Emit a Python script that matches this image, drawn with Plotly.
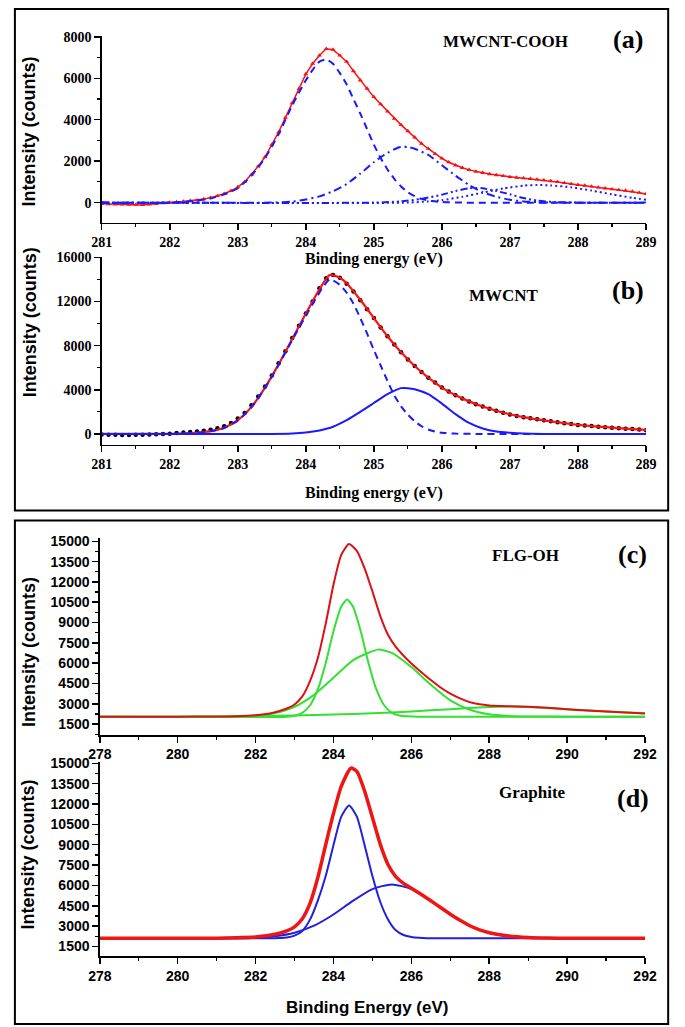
import numpy as np
import plotly.graph_objects as go

W, H = 685, 1027

# ---------------- panel (a) MWCNT-COOH ----------------
a_energy = np.round(np.linspace(281, 289, 81), 2)
a_counts = [-60, -70, -80, -90, -100, -100, -110, -80, -60, -30,
            0, 30, 60, 90, 120, 170, 240, 320, 430, 570,
            750, 1000, 1350, 1750, 2200, 2800, 3400, 4100, 4800, 5500,
            6200, 6700, 7100, 7420, 7380, 7100, 6800, 6350, 5900, 5500,
            5100, 4750, 4400, 4050, 3750, 3450, 3150, 2850, 2600, 2350,
            2130, 1950, 1800, 1680, 1580, 1500, 1440, 1380, 1330, 1290,
            1240, 1210, 1180, 1150, 1120, 1080, 1040, 1000, 950, 900,
            860, 820, 780, 730, 690, 650, 610, 580, 540, 480,
            420]
a_p1_x = [281, 282, 282.2, 282.4, 282.6, 282.8, 283.0, 283.2, 283.4, 283.6, 283.8, 284.0,
          284.1, 284.2, 284.3, 284.4, 284.5, 284.6, 284.7, 284.8, 284.9, 285.0, 285.1,
          285.2, 285.3, 285.4, 285.5, 285.6, 285.7, 285.8, 286.0, 286.3, 289]
a_p1_y = [0, 0, 30, 100, 200, 400, 700, 1300, 2150, 3300, 4700, 5900,
          6400, 6800, 6900, 6700, 6250, 5700, 5000, 4300, 3550, 2800, 2150,
          1600, 1150, 780, 500, 310, 180, 100, 30, 0, 0]
a_p2_x = [281, 283.5, 283.8, 284.0, 284.2, 284.4, 284.6, 284.8, 285.0, 285.2, 285.4, 285.5,
          285.6, 285.8, 286.0, 286.2, 286.4, 286.6, 286.8, 287.0, 287.2, 287.5, 289]
a_p2_y = [0, 0, 50, 150, 300, 550, 900, 1400, 1950, 2400, 2700, 2680,
          2600, 2300, 1800, 1300, 850, 500, 280, 140, 60, 10, 0]
a_p3_x = [281, 285.0, 285.4, 285.7, 286.0, 286.2, 286.4, 286.5, 286.6, 286.8, 287.0,
          287.2, 287.4, 287.7, 288.0, 289]
a_p3_y = [0, 0, 60, 180, 380, 560, 690, 710, 690, 560, 400,
          220, 100, 20, 0, 0]
a_p4_x = [281, 285.5, 285.8, 286.0, 286.3, 286.6, 286.9, 287.2, 287.4, 287.6, 287.9,
          288.2, 288.5, 288.8, 289.0]
a_p4_y = [0, 0, 60, 120, 280, 480, 680, 820, 850, 830, 740,
          580, 400, 230, 140]

# ---------------- panel (b) MWCNT ----------------
b_energy = np.round(np.linspace(281, 289, 81), 2)
b_counts = [-60, -70, -80, -90, -90, -80, -70, -50, -30, -10,
            20, 80, 130, 180, 230, 290, 380, 520, 700, 1000,
            1400, 1900, 2600, 3400, 4300, 5300, 6400, 7500, 8700, 9800,
            10900, 12000, 13200, 14100, 14400, 14150, 13600, 12900, 12100, 11300,
            10500, 9650, 8850, 8100, 7400, 6750, 6150, 5600, 5100, 4650,
            4200, 3850, 3500, 3200, 2950, 2700, 2480, 2280, 2100, 1920,
            1760, 1630, 1520, 1420, 1320, 1230, 1140, 1060, 980, 890,
            810, 760, 710, 660, 610, 560, 520, 480, 440, 400,
            330]
b_fit_x = [281.0, 281.4, 281.8, 282.0, 282.2, 282.4, 282.6, 282.8, 283.0, 283.2, 283.4,
           283.6, 283.8, 284.0, 284.2, 284.35, 284.5, 284.6, 284.8, 285.0, 285.2, 285.4,
           285.6, 285.8, 286.0, 286.2, 286.4, 286.6, 286.8, 287.0, 287.2, 287.4, 287.6,
           287.8, 288.0, 288.2, 288.4, 288.6, 288.8, 289.0]
b_fit_y = [0, 0, 0, 10, 40, 110, 250, 560, 1250, 2450, 4200,
           6300, 8600, 10900, 13100, 14400, 14150, 13650, 12150, 10500, 8850, 7400,
           6150, 5100, 4200, 3500, 2950, 2480, 2100, 1780, 1520, 1320, 1140,
           980, 830, 710, 610, 520, 440, 360]
b_p1_x = [281, 282.0, 282.2, 282.4, 282.6, 282.8, 283.0, 283.2, 283.4, 283.6, 283.8, 284.0,
          284.2, 284.3, 284.35, 284.4, 284.5, 284.6, 284.7, 284.8, 284.9, 285.0, 285.1,
          285.2, 285.3, 285.4, 285.5, 285.6, 285.7, 285.8, 285.9, 286.0, 286.2, 286.5,
          287.0, 289]
b_p1_y = [0, 0, 30, 100, 240, 540, 1200, 2400, 4150, 6250, 8500, 10700,
          12800, 13700, 14000, 13900, 13500, 12800, 11800, 10500, 9100, 7600, 6200,
          4800, 3500, 2500, 1750, 1150, 700, 400, 220, 110, 30, 5,
          0, 0]
b_p2_x = [281, 283.5, 283.8, 284.0, 284.2, 284.4, 284.6, 284.8, 285.0, 285.2, 285.4, 285.5,
          285.6, 285.8, 286.0, 286.2, 286.4, 286.6, 286.8, 287.0, 287.2, 287.5, 289]
b_p2_y = [0, 0, 40, 130, 320, 650, 1250, 2000, 2800, 3600, 4150, 4150,
          4050, 3600, 2750, 1800, 1000, 500, 220, 110, 40, 5, 0]

# ---------------- panel (c) FLG-OH ----------------
c_fit_x = [278, 279, 280, 281, 281.5, 282, 282.4, 282.8, 283.0, 283.2, 283.4, 283.6, 283.8,
           284.0, 284.2, 284.4, 284.6, 284.8, 285.0, 285.2, 285.4, 285.6, 285.8, 286.0,
           286.25, 286.5, 286.75, 287.0, 287.25, 287.5, 287.75, 288.0, 288.5, 289.0,
           289.5, 290.0, 290.5, 291.0, 291.5, 292.0]
c_fit_y = [2050, 2050, 2050, 2060, 2080, 2150, 2300, 2650, 2950, 3550, 4700, 6400, 8900,
           11800, 14000, 14800, 14300, 13000, 11300, 9500, 8100, 7200, 6550, 5980,
           5350, 4750, 4200, 3750, 3400, 3120, 2960, 2880, 2820, 2780,
           2700, 2600, 2500, 2420, 2350, 2290]
c_g1_x = [278, 282.8, 283.0, 283.2, 283.4, 283.6, 283.8, 284.0, 284.2, 284.35, 284.5,
          284.7, 284.9, 285.1, 285.3, 285.5, 285.7, 285.9, 286.2, 292]
c_g1_y = [2050, 2050, 2120, 2330, 2890, 4080, 6000, 8360, 10190, 10700, 10190,
          8360, 6000, 4080, 2890, 2330, 2130, 2070, 2050, 2050]
c_g2_x = [278, 281.0, 281.5, 282.0, 282.5, 283.0, 283.5, 284.0, 284.5, 285.15, 285.5,
          286.0, 286.5, 287.0, 287.5, 288.0, 288.5, 289.0, 290.0, 292]
c_g2_y = [2050, 2050, 2070, 2130, 2320, 2780, 3660, 4920, 6210, 7000, 6760,
          5710, 4400, 3250, 2560, 2220, 2100, 2060, 2050, 2050]
c_g3_x = [278, 281, 282, 283, 284, 285, 286, 287, 288, 288.5, 289, 290, 291, 292]
c_g3_y = [2050, 2050, 2080, 2140, 2210, 2300, 2430, 2600, 2760, 2790, 2770, 2600, 2430, 2300]

# ---------------- panel (d) Graphite ----------------
d_fit_x = [278, 280, 281, 281.5, 282.0, 282.5, 282.8, 283.0, 283.2, 283.4, 283.6, 283.8,
           284.0, 284.2, 284.45, 284.6, 284.8, 285.0, 285.2, 285.4, 285.6, 285.8, 286.0,
           286.25, 286.5, 286.75, 287.0, 287.25, 287.5, 287.75, 288.0, 288.5, 289.0,
           289.5, 290, 292]
d_fit_y = [2110, 2110, 2120, 2150, 2210, 2400, 2650, 2950, 3550, 4700, 6600, 9000,
           11300, 13300, 14650, 14400, 12950, 11000, 9050, 7550, 6650, 6150, 5800,
           5350, 4870, 4380, 3880, 3430, 3030, 2730, 2520, 2280, 2170,
           2130, 2110, 2110]
d_b1_x = [278, 282.4, 282.6, 282.8, 283.0, 283.2, 283.4, 283.6, 283.8, 284.0, 284.2, 284.4,
          284.6, 284.8, 285.0, 285.2, 285.4, 285.6, 285.8, 286.0, 286.2, 286.4, 292]
d_b1_y = [2110, 2110, 2130, 2170, 2300, 2650, 3500, 4900, 6700, 8965, 11070, 11900,
          11070, 8965, 6700, 4800, 3500, 2700, 2350, 2200, 2140, 2115, 2110]
d_b2_x = [278, 281.0, 281.5, 282.0, 282.5, 283.0, 283.5, 284.0, 284.5, 285.0, 285.5,
          286.0, 286.5, 287.0, 287.5, 288.0, 288.5, 289.0, 289.5, 290, 292]
d_b2_y = [2110, 2110, 2115, 2155, 2260, 2520, 3035, 3860, 4870, 5735, 6080,
          5735, 4870, 3860, 3035, 2520, 2260, 2155, 2125, 2112, 2110]

RED_A = "#ff1010"
BLUE_A = "#1a1aff"
RED_C = "#dd1111"
GREEN_C = "#33e033"
RED_D = "#ee1515"
BLUE_D = "#2020dd"

fig = go.Figure()

def line(x, y, color, width, dash="solid", ax="", shape="spline", smooth=0.6):
    fig.add_trace(go.Scatter(x=x, y=y, mode="lines", xaxis="x" + ax, yaxis="y" + ax,
                             line=dict(color=color, width=width, dash=dash, shape=shape,
                                       smoothing=smooth),
                             showlegend=False, hoverinfo="skip"))

# (a)
fig.add_trace(go.Scatter(x=a_energy, y=a_counts, mode="lines+markers", xaxis="x", yaxis="y",
                         line=dict(color=RED_A, width=1.5),
                         marker=dict(symbol="triangle-up", size=4.5, color=RED_A),
                         showlegend=False, hoverinfo="skip"))
line(a_p1_x, a_p1_y, BLUE_A, 2, "7px,5px")
line(a_p2_x, a_p2_y, BLUE_A, 2, "8px,4px,2px,4px")
line(a_p3_x, a_p3_y, BLUE_A, 2, "7px,3px,2px,3px,2px,3px")
line(a_p4_x, a_p4_y, BLUE_A, 2, "2px,3px")

# (b)
fig.add_trace(go.Scatter(x=b_energy, y=b_counts, mode="markers", xaxis="x2", yaxis="y2",
                         marker=dict(size=4.5, color="black"), showlegend=False,
                         hoverinfo="skip"))
line(b_fit_x, b_fit_y, RED_A, 2.2, ax="2")
line(b_p1_x, b_p1_y, BLUE_A, 2, "7px,5px", ax="2")
line(b_p2_x, b_p2_y, BLUE_A, 2, ax="2")

# (c)
line(c_g3_x, c_g3_y, GREEN_C, 2, ax="3")
line(c_g2_x, c_g2_y, GREEN_C, 2, ax="3")
line(c_g1_x, c_g1_y, GREEN_C, 2, ax="3")
line(c_fit_x, c_fit_y, RED_C, 2, ax="3")

# (d)
line(d_b2_x, d_b2_y, BLUE_D, 2, ax="4")
line(d_b1_x, d_b1_y, BLUE_D, 2, ax="4")
line(d_fit_x, d_fit_y, RED_D, 3.5, ax="4")

serif = dict(family="Liberation Serif", size=14, color="black", weight="bold")
sans = dict(family="Liberation Sans", size=14, color="black", weight="bold")

def axis(domain, rng, dtick, mdtick, font, anchor, tick0=None):
    d = dict(domain=domain, range=rng, dtick=dtick, showline=True, linecolor="black",
             linewidth=1.5, ticks="outside", ticklen=6, tickwidth=1.5, tickcolor="black",
             minor=dict(dtick=mdtick, ticks="outside", ticklen=3, tickwidth=1.2,
                        tickcolor="black"),
             tickfont=font, tickformat="d", showgrid=False, zeroline=False,
             anchor=anchor, mirror=False, fixedrange=True)
    if tick0 is not None:
        d["tick0"] = tick0
        d["minor"]["tick0"] = tick0
    return d

def px_x(p):
    return p / W

def px_y(p):
    return 1 - p / H

xd_ab = [px_x(93), px_x(657)]
xd_cd = [px_x(91), px_x(656)]

fig.update_layout(
    width=W, height=H, autosize=False,
    margin=dict(l=0, r=0, t=0, b=0),
    paper_bgcolor="white", plot_bgcolor="white",
    hovermode=False,
    xaxis=axis(xd_ab, [281, 289], 1, 0.5, serif, "y"),
    yaxis=axis([px_y(217), px_y(29)], [-960, 8048], 2000, 1000, serif, "x", tick0=0),
    xaxis2=axis(xd_ab, [281, 289], 1, 0.5, serif, "y2"),
    yaxis2=axis([px_y(441), px_y(252)], [-1000, 16000], 4000, 2000, serif, "x2", tick0=0),
    xaxis3=axis(xd_cd, [278, 292], 2, 1, sans, "y3"),
    yaxis3=axis([px_y(733), px_y(535)], [693, 15220], 1500, 750, sans, "x3", tick0=1500),
    xaxis4=axis(xd_cd, [278, 292], 2, 1, sans, "y4"),
    yaxis4=axis([px_y(956), px_y(760)], [768, 15110], 1500, 750, sans, "x4", tick0=1500),
)

ann = []
def text(s, x, y, font, angle=0):
    ann.append(dict(text=s, x=px_x(x), y=px_y(y), xref="paper", yref="paper",
                    showarrow=False, xanchor="center", yanchor="middle",
                    textangle=angle, font=font))

ytitle = dict(family="Liberation Sans", size=18, color="black", weight="bold")
text("Intensity (counts)", 18, 125, ytitle, -90)
text("Intensity (counts)", 18, 317, ytitle, -90)
text("Intensity (counts)", 17, 649, ytitle, -90)
text("Intensity (counts)", 17, 853, ytitle, -90)

xt_serif = dict(family="Liberation Serif", size=16, color="black", weight="bold")
xt_sans = dict(family="Liberation Sans", size=17, color="black", weight="bold")
text("Binding energy (eV)", 375, 254, xt_serif)
text("Binding energy (eV)", 375, 489, xt_serif)
text("Binding Energy (eV)", 368, 1007, xt_sans)

lab = dict(family="Liberation Serif", size=17, color="black", weight="bold")
big = dict(family="Liberation Serif", size=26, color="black", weight="bold")
text("MWCNT-COOH", 511, 35, lab)
text("(a)", 638, 33, big)
text("MWCNT", 510, 290, lab)
text("(b)", 638, 285, big)
text("FLG-OH", 532, 552, lab)
text("(c)", 643, 551, big)
text("Graphite", 539, 791, lab)
text("(d)", 644, 797, big)

fig.update_layout(annotations=ann)

fig.add_shape(type="rect", xref="paper", yref="paper",
              x0=px_x(3), x1=px_x(680), y0=px_y(507), y1=px_y(2),
              line=dict(color="black", width=2))
fig.add_shape(type="rect", xref="paper", yref="paper",
              x0=px_x(3), x1=px_x(680), y0=px_y(1024), y1=px_y(517),
              line=dict(color="black", width=2))

fig.write_html("out.html",
               config={"displayModeBar": False, "staticPlot": True},
               post_script="document.body.style.margin='0px';"
                           "document.body.style.overflow='hidden';")
